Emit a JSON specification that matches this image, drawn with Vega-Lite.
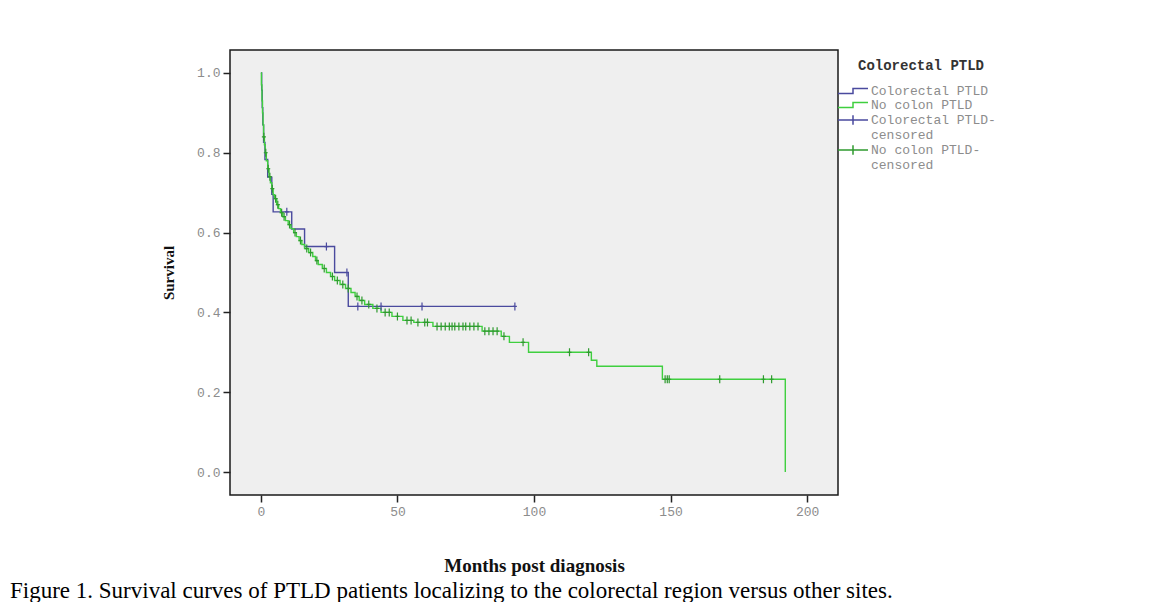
{
  "$schema": "https://vega.github.io/schema/vega-lite/v6.json",
  "width": 608,
  "height": 445,
  "autosize": {"type": "none"},
  "padding": {"left": 230, "top": 50, "right": 333, "bottom": 107},
  "background": "white",
  "title": {
    "text": "Figure 1. Survival curves of PTLD patients localizing to the colorectal region versus other sites.",
    "orient": "bottom",
    "anchor": "start",
    "frame": "group",
    "dx": -220,
    "offset": 5,
    "baseline": "top",
    "font": "Liberation Serif",
    "fontSize": 23,
    "fontWeight": "normal",
    "color": "#000000"
  },
  "data": {"values": [
    {"group": "Colorectal PTLD", "key": "Colorectal PTLD", "month": 0, "survival": 1},
    {"group": "Colorectal PTLD", "key": "Colorectal PTLD", "month": 0.3, "survival": 0.957},
    {"group": "Colorectal PTLD", "key": "Colorectal PTLD", "month": 0.5, "survival": 0.913},
    {"group": "Colorectal PTLD", "key": "Colorectal PTLD", "month": 0.7, "survival": 0.87},
    {"group": "Colorectal PTLD", "key": "Colorectal PTLD", "month": 1, "survival": 0.826},
    {"group": "Colorectal PTLD", "key": "Colorectal PTLD", "month": 1.5, "survival": 0.783},
    {"group": "Colorectal PTLD", "key": "Colorectal PTLD", "month": 2.5, "survival": 0.739},
    {"group": "Colorectal PTLD", "key": "Colorectal PTLD", "month": 4, "survival": 0.696},
    {"group": "Colorectal PTLD", "key": "Colorectal PTLD", "month": 4.5, "survival": 0.652},
    {"group": "Colorectal PTLD", "key": "Colorectal PTLD-censored", "month": 9.5, "survival": 0.652},
    {"group": "Colorectal PTLD", "key": "Colorectal PTLD", "month": 11.3, "survival": 0.609},
    {"group": "Colorectal PTLD", "key": "Colorectal PTLD", "month": 16, "survival": 0.565},
    {"group": "Colorectal PTLD", "key": "Colorectal PTLD-censored", "month": 24, "survival": 0.565},
    {"group": "Colorectal PTLD", "key": "Colorectal PTLD", "month": 27, "survival": 0.5},
    {"group": "Colorectal PTLD", "key": "Colorectal PTLD-censored", "month": 31.5, "survival": 0.5},
    {"group": "Colorectal PTLD", "key": "Colorectal PTLD", "month": 32, "survival": 0.415},
    {"group": "Colorectal PTLD", "key": "Colorectal PTLD-censored", "month": 35.5, "survival": 0.415},
    {"group": "Colorectal PTLD", "key": "Colorectal PTLD-censored", "month": 44, "survival": 0.415},
    {"group": "Colorectal PTLD", "key": "Colorectal PTLD-censored", "month": 59, "survival": 0.415},
    {"group": "Colorectal PTLD", "key": "Colorectal PTLD-censored", "month": 93, "survival": 0.415},

    {"group": "No colon PTLD", "key": "No colon PTLD", "month": 0, "survival": 1},
    {"group": "No colon PTLD", "key": "No colon PTLD", "month": 0.2, "survival": 0.97},
    {"group": "No colon PTLD", "key": "No colon PTLD", "month": 0.4, "survival": 0.93},
    {"group": "No colon PTLD", "key": "No colon PTLD", "month": 0.6, "survival": 0.9},
    {"group": "No colon PTLD", "key": "No colon PTLD", "month": 0.8, "survival": 0.87},
    {"group": "No colon PTLD", "key": "No colon PTLD", "month": 1, "survival": 0.84},
    {"group": "No colon PTLD", "key": "No colon PTLD-censored", "month": 1.1, "survival": 0.84},
    {"group": "No colon PTLD", "key": "No colon PTLD", "month": 1.3, "survival": 0.82},
    {"group": "No colon PTLD", "key": "No colon PTLD", "month": 1.6, "survival": 0.8},
    {"group": "No colon PTLD", "key": "No colon PTLD-censored", "month": 1.8, "survival": 0.8},
    {"group": "No colon PTLD", "key": "No colon PTLD", "month": 2, "survival": 0.78},
    {"group": "No colon PTLD", "key": "No colon PTLD", "month": 2.5, "survival": 0.76},
    {"group": "No colon PTLD", "key": "No colon PTLD-censored", "month": 2.7, "survival": 0.76},
    {"group": "No colon PTLD", "key": "No colon PTLD", "month": 3, "survival": 0.74},
    {"group": "No colon PTLD", "key": "No colon PTLD-censored", "month": 3.3, "survival": 0.74},
    {"group": "No colon PTLD", "key": "No colon PTLD", "month": 3.5, "survival": 0.725},
    {"group": "No colon PTLD", "key": "No colon PTLD", "month": 4, "survival": 0.71},
    {"group": "No colon PTLD", "key": "No colon PTLD-censored", "month": 4.2, "survival": 0.71},
    {"group": "No colon PTLD", "key": "No colon PTLD", "month": 4.5, "survival": 0.695},
    {"group": "No colon PTLD", "key": "No colon PTLD", "month": 5, "survival": 0.685},
    {"group": "No colon PTLD", "key": "No colon PTLD-censored", "month": 5.4, "survival": 0.685},
    {"group": "No colon PTLD", "key": "No colon PTLD", "month": 5.8, "survival": 0.67},
    {"group": "No colon PTLD", "key": "No colon PTLD-censored", "month": 6.2, "survival": 0.67},
    {"group": "No colon PTLD", "key": "No colon PTLD", "month": 6.5, "survival": 0.66},
    {"group": "No colon PTLD", "key": "No colon PTLD", "month": 7.2, "survival": 0.65},
    {"group": "No colon PTLD", "key": "No colon PTLD-censored", "month": 7.6, "survival": 0.65},
    {"group": "No colon PTLD", "key": "No colon PTLD", "month": 8, "survival": 0.64},
    {"group": "No colon PTLD", "key": "No colon PTLD-censored", "month": 8.5, "survival": 0.64},
    {"group": "No colon PTLD", "key": "No colon PTLD", "month": 9, "survival": 0.63},
    {"group": "No colon PTLD", "key": "No colon PTLD", "month": 10, "survival": 0.62},
    {"group": "No colon PTLD", "key": "No colon PTLD-censored", "month": 10.5, "survival": 0.62},
    {"group": "No colon PTLD", "key": "No colon PTLD", "month": 11, "survival": 0.61},
    {"group": "No colon PTLD", "key": "No colon PTLD", "month": 12, "survival": 0.6},
    {"group": "No colon PTLD", "key": "No colon PTLD-censored", "month": 12.5, "survival": 0.6},
    {"group": "No colon PTLD", "key": "No colon PTLD", "month": 13, "survival": 0.59},
    {"group": "No colon PTLD", "key": "No colon PTLD", "month": 14, "survival": 0.58},
    {"group": "No colon PTLD", "key": "No colon PTLD-censored", "month": 14.5, "survival": 0.58},
    {"group": "No colon PTLD", "key": "No colon PTLD", "month": 15, "survival": 0.57},
    {"group": "No colon PTLD", "key": "No colon PTLD", "month": 16, "survival": 0.56},
    {"group": "No colon PTLD", "key": "No colon PTLD-censored", "month": 16.8, "survival": 0.56},
    {"group": "No colon PTLD", "key": "No colon PTLD", "month": 17.5, "survival": 0.55},
    {"group": "No colon PTLD", "key": "No colon PTLD-censored", "month": 18.2, "survival": 0.55},
    {"group": "No colon PTLD", "key": "No colon PTLD", "month": 19, "survival": 0.54},
    {"group": "No colon PTLD", "key": "No colon PTLD", "month": 20, "survival": 0.53},
    {"group": "No colon PTLD", "key": "No colon PTLD-censored", "month": 20.5, "survival": 0.53},
    {"group": "No colon PTLD", "key": "No colon PTLD", "month": 21, "survival": 0.52},
    {"group": "No colon PTLD", "key": "No colon PTLD", "month": 22.5, "survival": 0.51},
    {"group": "No colon PTLD", "key": "No colon PTLD-censored", "month": 23.2, "survival": 0.51},
    {"group": "No colon PTLD", "key": "No colon PTLD", "month": 24, "survival": 0.5},
    {"group": "No colon PTLD", "key": "No colon PTLD", "month": 25.5, "survival": 0.49},
    {"group": "No colon PTLD", "key": "No colon PTLD-censored", "month": 26.2, "survival": 0.49},
    {"group": "No colon PTLD", "key": "No colon PTLD", "month": 27, "survival": 0.48},
    {"group": "No colon PTLD", "key": "No colon PTLD-censored", "month": 28, "survival": 0.48},
    {"group": "No colon PTLD", "key": "No colon PTLD", "month": 29, "survival": 0.47},
    {"group": "No colon PTLD", "key": "No colon PTLD-censored", "month": 30, "survival": 0.47},
    {"group": "No colon PTLD", "key": "No colon PTLD", "month": 31, "survival": 0.46},
    {"group": "No colon PTLD", "key": "No colon PTLD-censored", "month": 32, "survival": 0.46},
    {"group": "No colon PTLD", "key": "No colon PTLD", "month": 33, "survival": 0.45},
    {"group": "No colon PTLD", "key": "No colon PTLD", "month": 34.5, "survival": 0.44},
    {"group": "No colon PTLD", "key": "No colon PTLD-censored", "month": 35.2, "survival": 0.44},
    {"group": "No colon PTLD", "key": "No colon PTLD", "month": 36, "survival": 0.43},
    {"group": "No colon PTLD", "key": "No colon PTLD-censored", "month": 37, "survival": 0.43},
    {"group": "No colon PTLD", "key": "No colon PTLD", "month": 38, "survival": 0.42},
    {"group": "No colon PTLD", "key": "No colon PTLD-censored", "month": 39.5, "survival": 0.42},
    {"group": "No colon PTLD", "key": "No colon PTLD", "month": 41, "survival": 0.41},
    {"group": "No colon PTLD", "key": "No colon PTLD-censored", "month": 42.5, "survival": 0.41},
    {"group": "No colon PTLD", "key": "No colon PTLD", "month": 44, "survival": 0.4},
    {"group": "No colon PTLD", "key": "No colon PTLD-censored", "month": 45.5, "survival": 0.4},
    {"group": "No colon PTLD", "key": "No colon PTLD-censored", "month": 47, "survival": 0.4},
    {"group": "No colon PTLD", "key": "No colon PTLD", "month": 48, "survival": 0.39},
    {"group": "No colon PTLD", "key": "No colon PTLD-censored", "month": 50, "survival": 0.39},
    {"group": "No colon PTLD", "key": "No colon PTLD", "month": 52, "survival": 0.38},
    {"group": "No colon PTLD", "key": "No colon PTLD-censored", "month": 53.5, "survival": 0.38},
    {"group": "No colon PTLD", "key": "No colon PTLD-censored", "month": 55, "survival": 0.38},
    {"group": "No colon PTLD", "key": "No colon PTLD", "month": 56, "survival": 0.375},
    {"group": "No colon PTLD", "key": "No colon PTLD-censored", "month": 57.5, "survival": 0.375},
    {"group": "No colon PTLD", "key": "No colon PTLD-censored", "month": 60, "survival": 0.375},
    {"group": "No colon PTLD", "key": "No colon PTLD-censored", "month": 61, "survival": 0.375},
    {"group": "No colon PTLD", "key": "No colon PTLD", "month": 63, "survival": 0.365},
    {"group": "No colon PTLD", "key": "No colon PTLD-censored", "month": 64.5, "survival": 0.365},
    {"group": "No colon PTLD", "key": "No colon PTLD-censored", "month": 66, "survival": 0.365},
    {"group": "No colon PTLD", "key": "No colon PTLD-censored", "month": 67.5, "survival": 0.365},
    {"group": "No colon PTLD", "key": "No colon PTLD-censored", "month": 69, "survival": 0.365},
    {"group": "No colon PTLD", "key": "No colon PTLD-censored", "month": 70, "survival": 0.365},
    {"group": "No colon PTLD", "key": "No colon PTLD-censored", "month": 71, "survival": 0.365},
    {"group": "No colon PTLD", "key": "No colon PTLD-censored", "month": 72.5, "survival": 0.365},
    {"group": "No colon PTLD", "key": "No colon PTLD-censored", "month": 74, "survival": 0.365},
    {"group": "No colon PTLD", "key": "No colon PTLD-censored", "month": 75, "survival": 0.365},
    {"group": "No colon PTLD", "key": "No colon PTLD-censored", "month": 76.5, "survival": 0.365},
    {"group": "No colon PTLD", "key": "No colon PTLD-censored", "month": 78, "survival": 0.365},
    {"group": "No colon PTLD", "key": "No colon PTLD-censored", "month": 79.5, "survival": 0.365},
    {"group": "No colon PTLD", "key": "No colon PTLD", "month": 81, "survival": 0.353},
    {"group": "No colon PTLD", "key": "No colon PTLD-censored", "month": 82, "survival": 0.353},
    {"group": "No colon PTLD", "key": "No colon PTLD-censored", "month": 83.5, "survival": 0.353},
    {"group": "No colon PTLD", "key": "No colon PTLD-censored", "month": 85, "survival": 0.353},
    {"group": "No colon PTLD", "key": "No colon PTLD-censored", "month": 86.5, "survival": 0.353},
    {"group": "No colon PTLD", "key": "No colon PTLD", "month": 88, "survival": 0.34},
    {"group": "No colon PTLD", "key": "No colon PTLD-censored", "month": 89, "survival": 0.34},
    {"group": "No colon PTLD", "key": "No colon PTLD", "month": 91, "survival": 0.325},
    {"group": "No colon PTLD", "key": "No colon PTLD-censored", "month": 96, "survival": 0.325},
    {"group": "No colon PTLD", "key": "No colon PTLD", "month": 98, "survival": 0.3},
    {"group": "No colon PTLD", "key": "No colon PTLD-censored", "month": 113, "survival": 0.3},
    {"group": "No colon PTLD", "key": "No colon PTLD-censored", "month": 120, "survival": 0.3},
    {"group": "No colon PTLD", "key": "No colon PTLD", "month": 121, "survival": 0.28},
    {"group": "No colon PTLD", "key": "No colon PTLD", "month": 123, "survival": 0.265},
    {"group": "No colon PTLD", "key": "No colon PTLD", "month": 147, "survival": 0.2325},
    {"group": "No colon PTLD", "key": "No colon PTLD-censored", "month": 148, "survival": 0.2325},
    {"group": "No colon PTLD", "key": "No colon PTLD-censored", "month": 148.8, "survival": 0.2325},
    {"group": "No colon PTLD", "key": "No colon PTLD-censored", "month": 149.5, "survival": 0.2325},
    {"group": "No colon PTLD", "key": "No colon PTLD-censored", "month": 168, "survival": 0.2325},
    {"group": "No colon PTLD", "key": "No colon PTLD-censored", "month": 184, "survival": 0.2325},
    {"group": "No colon PTLD", "key": "No colon PTLD-censored", "month": 187, "survival": 0.2325},
    {"group": "No colon PTLD", "key": "No colon PTLD", "month": 192, "survival": 0}
  ]},
  "encoding": {
    "x": {
      "field": "month", "type": "quantitative",
      "scale": {"domain": [-11.3, 211.3], "nice": false, "zero": false},
      "axis": {"values": [0, 50, 100, 150, 200], "title": "Months post diagnosis", "titleFontSize": 19, "titlePadding": 38}
    },
    "y": {
      "field": "survival", "type": "quantitative",
      "scale": {"domain": [-0.0575, 1.0575], "nice": false, "zero": false},
      "axis": {"values": [0, 0.2, 0.4, 0.6, 0.8, 1.0], "format": ".1f", "title": "Survival", "titleFontSize": 15, "titlePadding": 20}
    }
  },
  "layer": [
    {
      "mark": {"type": "line", "interpolate": "step-after", "strokeWidth": 1.4},
      "encoding": {
        "color": {
          "field": "group", "type": "nominal",
          "scale": {
            "domain": ["Colorectal PTLD", "No colon PTLD", "Colorectal PTLD-censored", "No colon PTLD-censored"],
            "range": ["#4a4a9e", "#3fcf3f", "#4a4a9e", "#2f9a2f"]
          },
          "legend": {
            "title": "Colorectal PTLD",
            "orient": "none",
            "legendX": 616,
            "legendY": 9,
            "padding": 0,
            "titleFont": "Liberation Mono",
            "titleFontSize": 14,
            "titleFontWeight": "bold",
            "titleColor": "#333333",
            "titleAnchor": "middle",
            "titlePadding": 11,
            "labelFont": "Liberation Mono",
            "labelFontSize": 13,
            "labelColor": "#8c8c8c",
            "labelOffset": 11,
            "symbolSize": 144,
            "symbolStrokeWidth": 1.5,
            "rowPadding": 0,
            "labelExpr": "datum.label == 'Colorectal PTLD-censored' ? ['Colorectal PTLD-', 'censored'] : datum.label == 'No colon PTLD-censored' ? ['No colon PTLD-', 'censored'] : datum.label",
            "encode": {
              "symbols": {
                "update": {
                  "shape": {"signal": "indexof(datum.value, 'censored') >= 0 ? 'M-2.5,0H2.5M0,-0.8V0.8' : 'M-2.5,0.4H0V-0.4H2.5'"},
                  "fill": {"value": "transparent"},
                  "stroke": {"scale": "color", "field": "value"}
                }
              }
            }
          }
        }
      }
    },
    {
      "transform": [{"filter": {"field": "key", "oneOf": ["Colorectal PTLD-censored", "No colon PTLD-censored"]}}],
      "mark": {"type": "point", "shape": "M0,-1V1M-0.5,0H0.5", "filled": false, "size": 64, "strokeWidth": 1.2, "opacity": 1},
      "encoding": {
        "color": {"field": "key", "type": "nominal"}
      }
    }
  ],
  "config": {
    "view": {"stroke": "#1a1a1a", "strokeWidth": 1.5, "fill": "#efefef"},
    "axis": {
      "domain": false,
      "grid": false,
      "tickColor": "#222222",
      "tickWidth": 1.5,
      "tickSize": 7,
      "labelFont": "Liberation Mono",
      "labelFontSize": 13,
      "labelColor": "#8c8c8c",
      "labelPadding": 3,
      "titleFont": "Liberation Serif",
      "titleFontWeight": "bold",
      "titleColor": "#111111"
    }
  }
}
